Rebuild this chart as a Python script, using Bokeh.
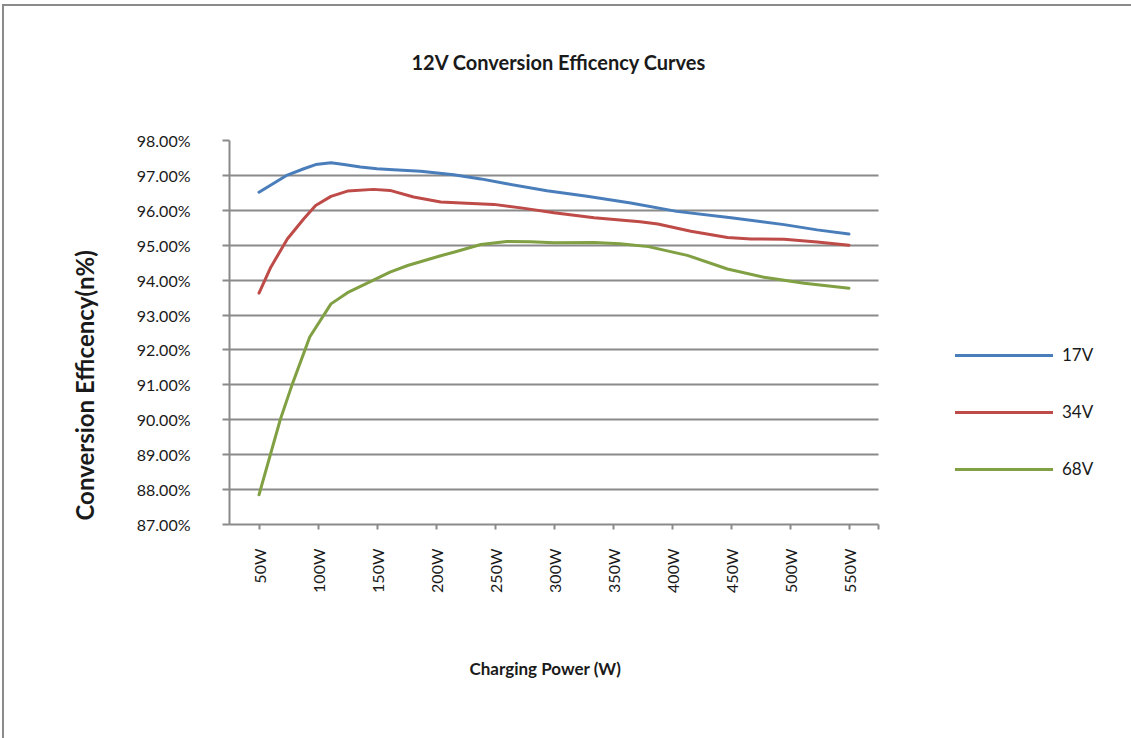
import math
from bokeh.plotting import figure
from bokeh.models import (FixedTicker, PrintfTickFormatter, Legend, LegendItem,
                          Range1d, Title)
from bokeh.embed import file_html
from bokeh.resources import INLINE

# ---------------- data ----------------
title_text = "12V  Conversion Efficency Curves"
x_title = "Charging  Power (W)"
y_title = "Conversion Efficency(n%)"
series_names = ["17V", "34V", "68V"]
series_colors = ["#4a7ebb", "#be4b48", "#80a043"]

x_tick_values = [50, 100, 150, 200, 250, 300, 350, 400, 450, 500, 550]
x_tick_labels = ["50W", "100W", "150W", "200W", "250W", "300W",
                 "350W", "400W", "450W", "500W", "550W"]
y_tick_values = [87, 88, 89, 90, 91, 92, 93, 94, 95, 96, 97, 98]

x_17v = [50, 74, 88, 98, 111, 122, 136, 150, 164, 187, 195, 215, 238, 260,
         294, 328, 365, 404, 450, 495, 523, 550]
y_17v = [96.52, 97.01, 97.19, 97.31, 97.36, 97.31, 97.24, 97.19, 97.16, 97.12,
         97.09, 97.02, 96.90, 96.76, 96.56, 96.40, 96.21, 95.97, 95.79, 95.59,
         95.44, 95.32]

x_34v = [50, 60, 74, 88, 98, 111, 125, 147, 161, 181, 204, 226, 249, 272, 300,
         334, 373, 388, 416, 447, 467, 495, 523, 550]
y_34v = [93.63, 94.37, 95.18, 95.76, 96.14, 96.40, 96.55, 96.60, 96.57, 96.38,
         96.24, 96.20, 96.17, 96.07, 95.93, 95.79, 95.67, 95.61, 95.40, 95.22,
         95.18, 95.17, 95.09, 95.00]

x_68v = [50, 68, 78, 93, 111, 125, 147, 161, 176, 204, 215, 238, 260, 280, 300,
         334, 356, 380, 413, 447, 478, 512, 550]
y_68v = [87.85, 90.00, 91.00, 92.37, 93.32, 93.64, 94.00, 94.23, 94.42, 94.70,
         94.80, 95.02, 95.11, 95.10, 95.07, 95.08, 95.04, 94.96, 94.71, 94.32,
         94.08, 93.91, 93.77]

xs = [x_17v, x_34v, x_68v]
ys = [y_17v, y_34v, y_68v]

FONT = "Lato"
GRID = "#8a8a8a"
TXT = "#1a1a1a"

# ---------------- figure ----------------
# The plotting frame is extended to the right so the legend can sit inside it;
# axis and grid are bounded to the real data extent (25 .. 575 W).
W, H = 1131, 738
X0, X1 = 25, 575
FRAME_L, FRAME_R_AXIS, FRAME_R = 229, 878, 1120
x_end = X0 + (FRAME_R - FRAME_L) * (X1 - X0) / (FRAME_R_AXIS - FRAME_L)

p = figure(width=W, height=H, output_backend="svg", toolbar_location=None,
           x_range=Range1d(X0, x_end), y_range=Range1d(87, 98),
           min_border_left=FRAME_L, min_border_right=W - FRAME_R,
           min_border_top=140, min_border_bottom=H - 524)
p.outline_line_color = None
p.background_fill_color = "white"
p.border_fill_color = None
p.styles = {"box-shadow": "inset 2px 4px 0 0 white, inset 4px 6px 0 0 #8a8a8a",
            "background-color": "white"}

# grid
p.xgrid.grid_line_color = None
p.ygrid.grid_line_color = GRID
p.ygrid.grid_line_width = 2
p.ygrid.ticker = FixedTicker(ticks=y_tick_values)
p.ygrid.cross_bounds = (X0, X1)

# y axis
yax = p.yaxis[0]
yax.ticker = FixedTicker(ticks=y_tick_values)
yax.formatter = PrintfTickFormatter(format="%.2f%%")
yax.axis_line_color = GRID
yax.axis_line_width = 2
yax.major_tick_line_color = GRID
yax.major_tick_line_width = 2
yax.major_tick_out = 7
yax.major_tick_in = 0
yax.minor_tick_line_color = None
yax.major_label_text_font = FONT
yax.major_label_text_font_size = "16px"
yax.major_label_text_color = TXT
yax.major_label_standoff = 32

# x axis
xax = p.xaxis[0]
xax.bounds = (X0, X1)
xax.ticker = FixedTicker(ticks=x_tick_values + [X1])
overrides = {v: l for v, l in zip(x_tick_values, x_tick_labels)}
overrides[X1] = ""
xax.major_label_overrides = overrides
xax.major_label_orientation = math.pi / 2
xax.axis_line_color = GRID
xax.axis_line_width = 2
xax.major_tick_line_color = GRID
xax.major_tick_line_width = 2
xax.major_tick_out = 5
xax.major_tick_in = 0
xax.minor_tick_line_color = None
xax.major_label_text_font = FONT
xax.major_label_text_font_size = "16px"
xax.major_label_text_color = TXT
xax.major_label_standoff = 19

# series
renderers = []
for x, y, c in zip(xs, ys, series_colors):
    r = p.line(x, y, line_color=c, line_width=3, line_join="round", line_cap="round")
    renderers.append(r)

legend = Legend(items=[LegendItem(label=n, renderers=[r]) for n, r in zip(series_names, renderers)],
                location=(955 - FRAME_L, 45), orientation="vertical",
                glyph_width=98, glyph_height=20, spacing=36, label_standoff=9,
                padding=0, margin=0, border_line_color=None,
                background_fill_alpha=0,
                label_text_font=FONT, label_text_font_size="17px",
                label_text_color=TXT)
p.add_layout(legend, "center")

# titles (thin blank spacers keep titles at their distance from the plot)
p.add_layout(Title(text=" ", standoff=59, text_font_size="1px"), "above")
p.add_layout(Title(text=title_text, align="left", offset=182, standoff=10,
                   text_font=FONT, text_font_size="20px", text_font_style="bold",
                   text_color=TXT), "above")
p.add_layout(Title(text=y_title, align="left", offset=4, standoff=69,
                   text_font=FONT, text_font_size="24px", text_font_style="bold",
                   text_color=TXT), "left")
p.add_layout(Title(text=" ", standoff=54, text_font_size="1px"), "below")
p.add_layout(Title(text=x_title, align="left", offset=240, standoff=10,
                   vertical_align="top",
                   text_font=FONT, text_font_size="17px", text_font_style="bold",
                   text_color=TXT), "below")

open("out.html", "w").write(file_html(p, INLINE))
